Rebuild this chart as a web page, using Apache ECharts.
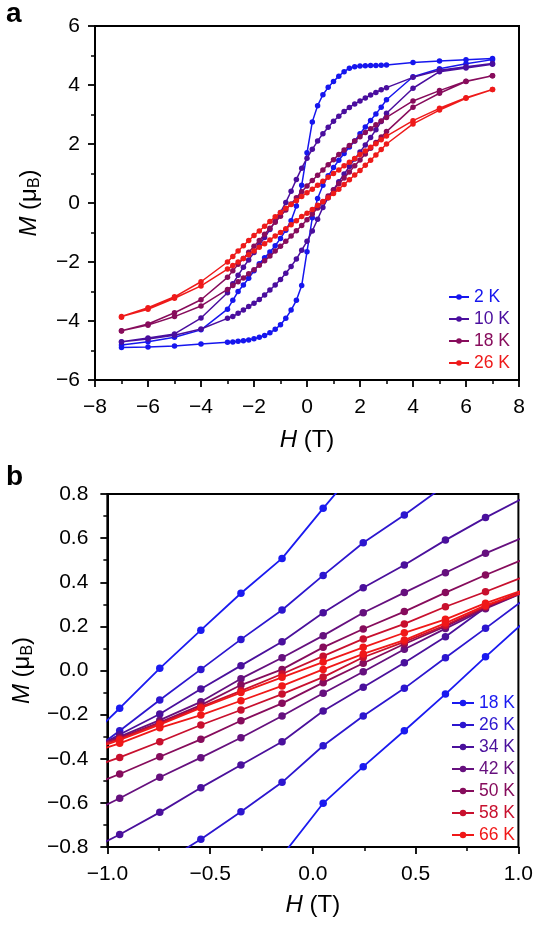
<!DOCTYPE html>
<html>
<head>
<meta charset="utf-8">
<script src="https://cdn.jsdelivr.net/npm/echarts@6/dist/echarts.min.js"></script>
<style>html,body{margin:0;padding:0;background:#fff;}#c{width:536px;height:925px;}</style>
</head>
<body>
<div id="c"></div>
<script>
// ---------- Panel a : hysteresis loops ----------
const H_TOP_DESC = [7,6,5,4,3,2.8,2.6,2.4,2.2,2,1.8,1.6,1.4,1.2,1,0.8,0.6,0.4,0.2,0,-0.2,-0.4,-0.6,-0.8,-1,-1.2,-1.4,-1.6,-1.8,-2,-2.2,-2.4,-2.6,-2.8,-3,-4,-5,-6,-7];
const H_TOP_ASC = [-7,-6,-5,-4,-3,-2.8,-2.6,-2.4,-2.2,-2,-1.8,-1.6,-1.4,-1.2,-1,-0.8,-0.6,-0.4,-0.2,0,0.2,0.4,0.6,0.8,1,1.2,1.4,1.6,1.8,2,2.2,2.4,2.6,2.8,3,4,5,6,7];
const TOP_NAMES = ['2 K','10 K','18 K','26 K'];
const TOP_COLORS = ['#1616ee','#4a0e9e','#870c5c','#ee1a1a'];

const M2_DESC  = [4.90,4.86,4.81,4.76,4.68, 4.67,4.66,4.66,4.65,4.64,4.62,4.57,4.45,4.30,4.12,3.92,3.67,3.30,2.75,1.70, 0.60,-0.10,-0.60,-0.92,-1.20,-1.45,-1.66,-1.86,-2.06,-2.30,-2.55,-2.78,-3.00,-3.30,-3.60, -4.30,-4.55,-4.70,-4.81];
const M2_ASC   = [-4.90,-4.88,-4.85,-4.78,-4.72, -4.71,-4.69,-4.67,-4.64,-4.60,-4.55,-4.49,-4.40,-4.28,-4.13,-3.91,-3.63,-3.30,-2.80,-1.65, -0.50,0.15,0.60,0.92,1.20,1.45,1.68,1.90,2.10,2.35,2.58,2.80,3.02,3.25,3.50, 4.28,4.55,4.72,4.86];
const M10_DESC = [4.73,4.62,4.50,4.26,3.91, 3.84,3.75,3.66,3.56,3.46,3.36,3.24,3.10,2.94,2.77,2.57,2.35,2.10,1.82,1.52, 1.18,0.80,0.40,0.02,-0.32,-0.62,-0.90,-1.17,-1.43,-1.68,-1.93,-2.18,-2.45,-2.74,-3.04, -3.90,-4.44,-4.58,-4.70];
const M10_ASC  = [-4.71,-4.61,-4.48,-4.27,-3.91, -3.85,-3.74,-3.63,-3.51,-3.40,-3.27,-3.12,-2.95,-2.78,-2.59,-2.38,-2.15,-1.90,-1.60,-1.30, -0.95,-0.55,-0.15,0.18,0.45,0.72,0.98,1.24,1.49,1.73,1.97,2.22,2.48,2.76,3.04, 3.89,4.45,4.58,4.70];
const M18_DESC = [4.31,4.13,3.81,3.46,2.90, 2.78,2.65,2.52,2.39,2.25,2.10,1.95,1.80,1.64,1.47,1.30,1.12,0.94,0.76,0.58, 0.38,0.18,-0.03,-0.24,-0.45,-0.65,-0.86,-1.06,-1.27,-1.47,-1.67,-1.88,-2.08,-2.30,-2.52, -3.28,-3.72,-4.10,-4.33];
const M18_ASC  = [-4.34,-4.14,-3.85,-3.49,-2.93, -2.80,-2.67,-2.54,-2.40,-2.26,-2.11,-1.96,-1.80,-1.63,-1.47,-1.30,-1.12,-0.94,-0.76,-0.57, -0.37,-0.17,0.03,0.24,0.44,0.65,0.85,1.05,1.26,1.46,1.66,1.86,2.05,2.24,2.42, 3.25,3.72,4.12,4.31];
const M26_DESC = [3.85,3.57,3.21,2.79,2.27, 2.14,2.01,1.89,1.76,1.64,1.51,1.38,1.26,1.12,1.00,0.87,0.74,0.60,0.47,0.35, 0.22,0.08,-0.05,-0.18,-0.32,-0.47,-0.63,-0.79,-0.95,-1.10,-1.27,-1.45,-1.63,-1.81,-2.00, -2.67,-3.18,-3.55,-3.85];
const M26_ASC  = [-3.87,-3.60,-3.23,-2.81,-2.24, -2.12,-2.00,-1.88,-1.75,-1.63,-1.50,-1.38,-1.25,-1.12,-1.00,-0.87,-0.74,-0.60,-0.46,-0.35, -0.22,-0.08,0.05,0.18,0.32,0.47,0.63,0.79,0.95,1.10,1.28,1.45,1.63,1.81,2.00, 2.68,3.15,3.55,3.85];
const TOP_DESC = [M2_DESC, M10_DESC, M18_DESC, M26_DESC];
const TOP_ASC  = [M2_ASC, M10_ASC, M18_ASC, M26_ASC];

// ---------- Panel b : low-field zoom ----------
const H_B = [-1.14,-0.94,-0.745,-0.545,-0.35,-0.15,0.05,0.245,0.445,0.645,0.84,1.04];
const B_NAMES = ['18 K','26 K','34 K','42 K','50 K','58 K','66 K'];
const B_COLORS = ['#1a1af0','#2c16cf','#4a109c','#66107e','#860c5c','#c8102e','#f01818'];
const B18_UP = [-0.35,-0.171,0.010,0.183,0.350,0.508,0.735,0.95,null,null,null,null];
const B18_LO = [null,null,null,null,null,-0.84,-0.602,-0.436,-0.273,-0.107,0.062,0.23];
const B26_UP = [-0.41,-0.273,-0.134,0.005,0.141,0.274,0.431,0.579,0.705,0.84,null,null];
const B26_LO = [null,null,-0.88,-0.765,-0.640,-0.507,-0.341,-0.206,-0.081,0.058,0.191,0.33];
const B34_UP = [-0.39,-0.29,-0.197,-0.084,0.022,0.130,0.262,0.375,0.478,0.591,0.693,0.79];
const B34_LO = [-0.84,-0.743,-0.643,-0.531,-0.428,-0.323,-0.184,-0.076,0.035,0.153,0.286,0.37];
const B42_UP = [-0.37,-0.30,-0.225,-0.142,-0.037,0.058,0.158,0.262,0.353,0.443,0.531,0.61];
const B42_LO = [-0.67,-0.579,-0.484,-0.395,-0.305,-0.206,-0.103,-0.006,0.096,0.19,0.28,0.36];
const B50_UP = [-0.36,-0.305,-0.235,-0.157,-0.066,0.005,0.105,0.188,0.267,0.353,0.433,0.51];
const B50_LO = [-0.545,-0.469,-0.391,-0.312,-0.228,-0.149,-0.055,0.033,0.12,0.20,0.285,0.36];
const B58_UP = [-0.37,-0.31,-0.24,-0.165,-0.092,-0.016,0.065,0.143,0.211,0.289,0.357,0.43];
const B58_LO = [-0.46,-0.394,-0.323,-0.247,-0.179,-0.107,-0.03,0.06,0.13,0.205,0.29,0.36];
const B66_UP = [-0.38,-0.315,-0.245,-0.17,-0.10,-0.031,0.038,0.105,0.171,0.232,0.305,0.37];
const B66_LO = [-0.39,-0.33,-0.26,-0.202,-0.137,-0.07,0.005,0.075,0.138,0.215,0.295,0.36];
const B_UP = [B18_UP,B26_UP,B34_UP,B42_UP,B50_UP,B58_UP,B66_UP];
const B_LO = [B18_LO,B26_LO,B34_LO,B42_LO,B50_LO,B58_LO,B66_LO];

const X_TOP_TICKS = [-8,8,2];
const Y_TOP_TICKS = [-6,6,2];
const X_B_TICKS = [-1,1,0.5];
const Y_B_TICKS = [-0.8,0.8,0.2];

// ---------- build ----------
const FONT = 'Liberation Sans, Arial, sans-serif';
const minus = s => s.replace('-', '\u2212');
const fmtInt = v => minus(String(Math.round(v)));
const fmt1 = v => Math.abs(v) < 1e-9 ? '0.0' : minus(v.toFixed(1));

function zip(xs, ys){ return xs.map((x,i)=>[x, ys[i]]); }

const series = [];
TOP_NAMES.forEach((n,i)=>{
  const data = zip(H_TOP_DESC, TOP_DESC[i]).concat(zip(H_TOP_ASC, TOP_ASC[i]));
  series.push({
    type:'line', name:'a'+n, xAxisIndex:0, yAxisIndex:0, data,
    symbol:'circle', symbolSize:5.5, showAllSymbol:true,
    lineStyle:{width:1.5, color:TOP_COLORS[i]}, itemStyle:{color:TOP_COLORS[i]},
    z: 2 + i
  });
});
B_NAMES.forEach((n,i)=>{
  const up = zip(H_B, B_UP[i]).reverse();
  const lo = zip(H_B, B_LO[i]);
  series.push({
    type:'line', name:'b'+n, xAxisIndex:1, yAxisIndex:1, data: up.concat(lo),
    symbol:'circle', symbolSize:7.5, showAllSymbol:true, connectNulls:false,
    lineStyle:{width:1.8, color:B_COLORS[i]}, itemStyle:{color:B_COLORS[i]},
    z: 2 + i
  });
});

function xAxis(grid, t, fmt, name, gap){
  return {
    type:'value', gridIndex:grid, min:t[0], max:t[1], interval:t[2],
    axisLine:{show:true, onZero:false, lineStyle:{color:'#000', width:2}},
    axisTick:{show:true, inside:false, length:7, lineStyle:{color:'#000', width:1.8}},
    minorTick:{show:true, splitNumber:2, length:4, lineStyle:{color:'#000', width:1.5}},
    splitLine:{show:false},
    axisLabel:{color:'#000', fontSize:21, fontFamily:FONT, margin:17, formatter:fmt},
    name:name, nameLocation:'middle', nameGap:gap,
    nameTextStyle:{color:'#000', fontSize:24, fontFamily:FONT,
      rich:{i:{fontStyle:'italic', fontSize:24, fontFamily:FONT, color:'#000'}}}
  };
}
function yAxis(grid, t, fmt, name, margin){
  return {
    type:'value', gridIndex:grid, min:t[0], max:t[1], interval:t[2],
    axisLine:{show:true, onZero:false, lineStyle:{color:'#000', width:2}},
    axisTick:{show:true, inside:false, length:7, lineStyle:{color:'#000', width:1.8}},
    minorTick:{show:true, splitNumber:2, length:4, lineStyle:{color:'#000', width:1.5}},
    splitLine:{show:false},
    axisLabel:{color:'#000', fontSize:21, fontFamily:FONT, margin:margin, formatter:fmt},
    name:name, nameLocation:'middle', nameGap:52, nameRotate:90,
    nameTextStyle:{color:'#000', fontSize:24, fontFamily:FONT, lineHeight:28,
      rich:{
        i:{fontStyle:'italic', fontSize:24, fontFamily:FONT, color:'#000', lineHeight:28},
        s:{fontSize:16, fontFamily:FONT, color:'#000', lineHeight:16, verticalAlign:'bottom'}
      }}
  };
}

const option = {
  animation:false,
  backgroundColor:'#fff',
  grid:[
    {left:95, top:26, width:424, height:354, show:true, borderColor:'#000', borderWidth:2, backgroundColor:'transparent'},
    {left:95, top:494, width:424, height:353, show:true, borderColor:'#000', borderWidth:2, backgroundColor:'transparent'}
  ],
  xAxis:[ xAxis(0, X_TOP_TICKS, fmtInt, '{i|H} (T)', 48), xAxis(1, X_B_TICKS, fmt1, '{i|H} (T)', 46) ],
  yAxis:[ yAxis(0, Y_TOP_TICKS, fmtInt, '{i|M} (\u03bc{s|B})', 15), yAxis(1, Y_B_TICKS, fmt1, '{i|M} (\u03bc{s|B})', 19) ],
  legend:[
    {orient:'vertical', left:443, top:281, itemWidth:20, itemHeight:7, itemGap:0, itemTextGap:5,
     formatter:n=>n.slice(1),
     textStyle:{fontSize:17.5, fontFamily:FONT, lineHeight:22},
     data: TOP_NAMES.map((n,i)=>({name:'a'+n, textStyle:{color:TOP_COLORS[i]}}))},
    {orient:'vertical', left:446, top:687, itemWidth:22, itemHeight:8, itemGap:0, itemTextGap:5,
     formatter:n=>n.slice(1),
     textStyle:{fontSize:17.5, fontFamily:FONT, lineHeight:22},
     data: B_NAMES.map((n,i)=>({name:'b'+n, textStyle:{color:B_COLORS[i]}}))}
  ],
  graphic:[
    {type:'text', left:6, top:0, style:{text:'a', fontSize:28, fontWeight:'bold', fontFamily:FONT, fill:'#000'}},
    {type:'text', left:6, top:463, style:{text:'b', fontSize:28, fontWeight:'bold', fontFamily:FONT, fill:'#000'}}
  ],
  series
};
const chart = echarts.init(document.getElementById('c'), null, {renderer:'canvas'});
chart.setOption(option);
</script>
</body>
</html>
